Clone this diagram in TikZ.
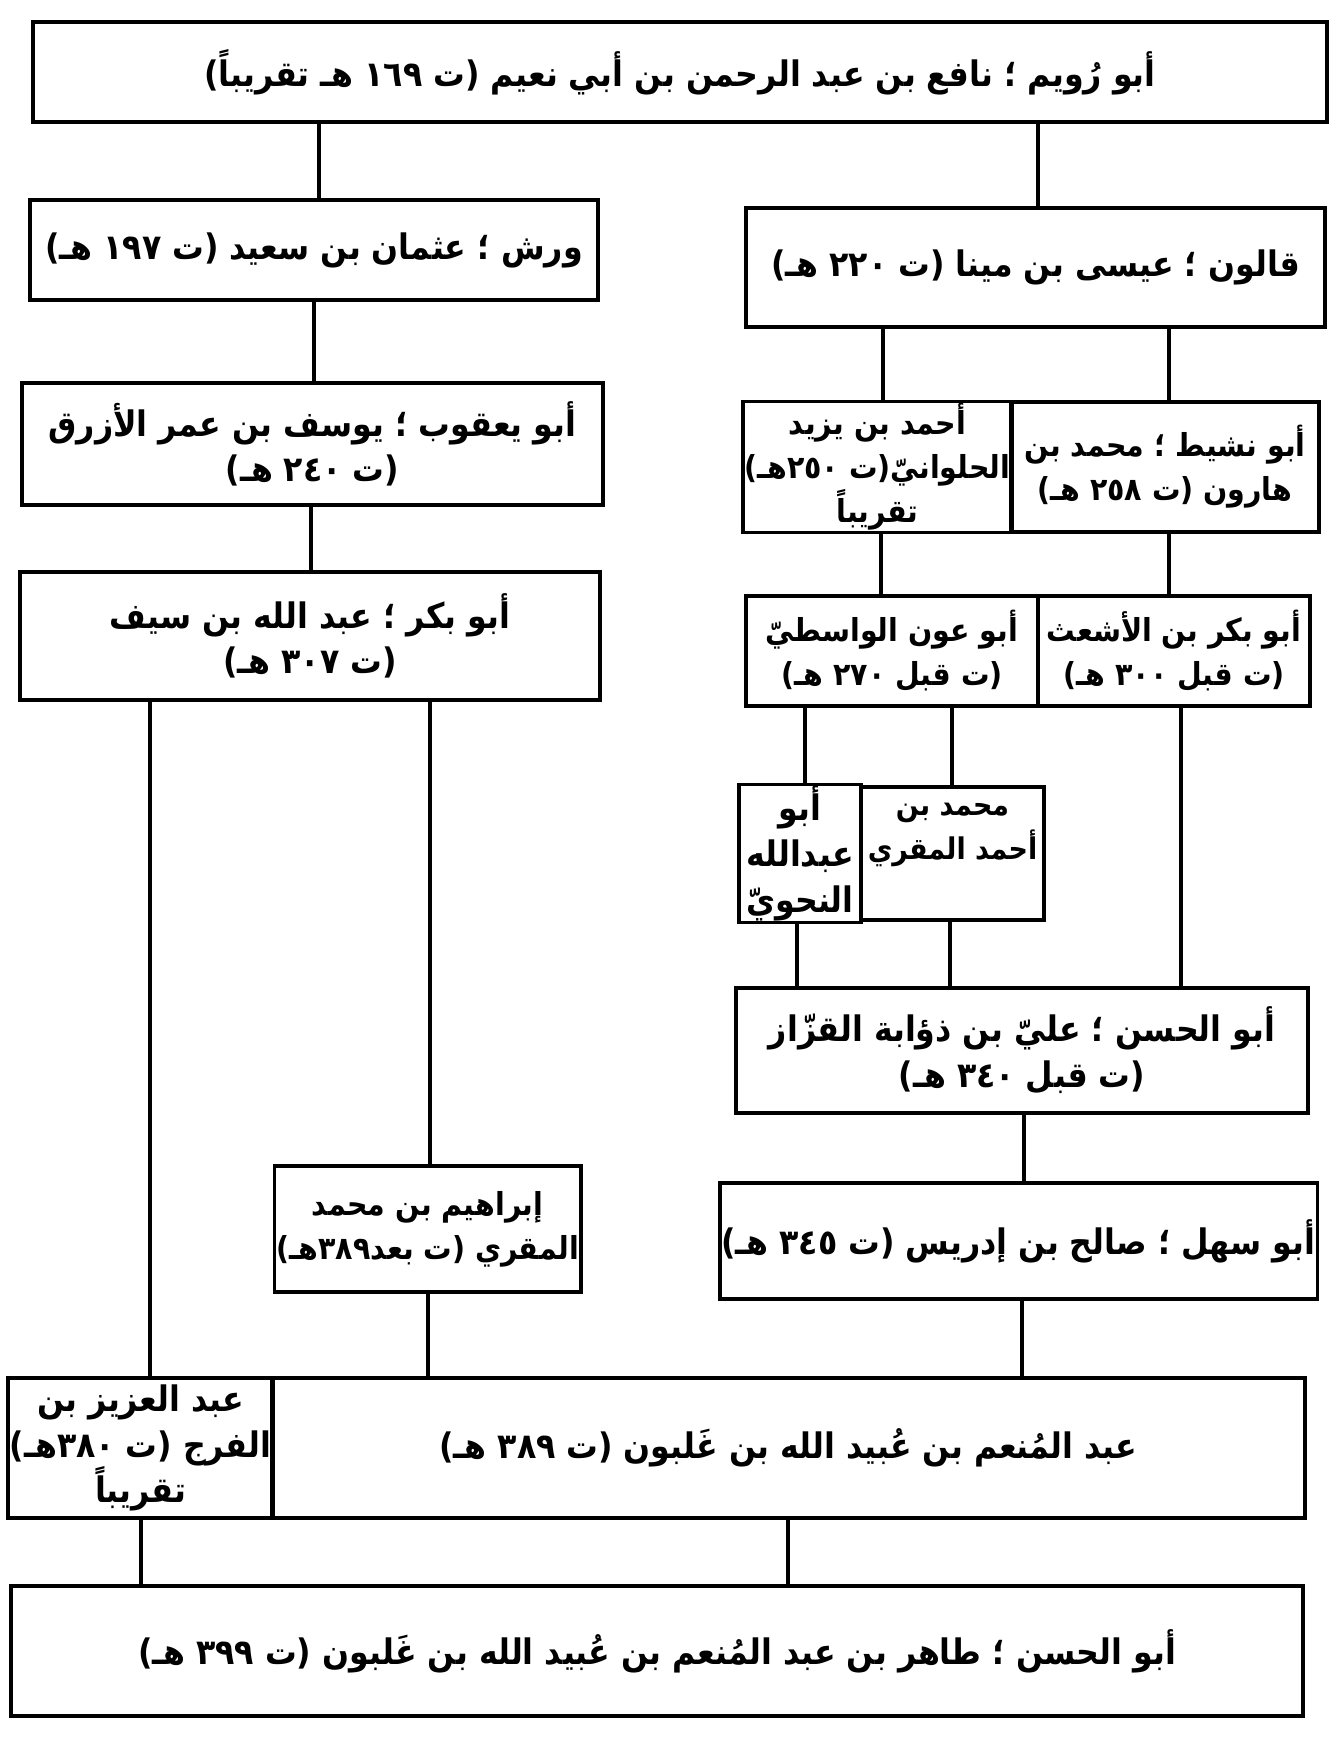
\documentclass[tikz,border=0pt]{standalone}
\usepackage{fontspec}
\newfontfamily\arabicfont[Script=Arabic, BoldFont={DejaVu Sans Condensed Bold}]{DejaVu Sans Condensed}
\TeXXeTstate=1
\usepackage{tikz}
\usetikzlibrary{positioning}
\newcommand{\rtl}[1]{\beginR #1\endR}

\begin{document}
\begin{tikzpicture}[
        person/.style={rectangle, draw=black, line width=1pt, align=center, inner sep=0.5pt, font=\arabicfont\bfseries\fontsize{10}{13}\selectfont},
        small/.style={font=\arabicfont\bfseries\fontsize{9}{12.5}\selectfont},
        tiny/.style={font=\arabicfont\bfseries\fontsize{8.5}{12.5}\selectfont},
        link/.style={-, line width=0.9pt}
    ]
        \useasboundingbox (0,0) rectangle (13.36,-17.41);

        \node[person, minimum width=12.94cm, minimum height=1.00cm] (nafi) at (6.80,-0.72) {\rtl{أبو رُويم ؛ نافع بن عبد الرحمن بن أبي نعيم (ت ١٦٩ هـ تقريباً)}};

        \node[person, minimum width=5.68cm, minimum height=1.00cm] (warsh) at (3.14,-2.50) {\rtl{ورش ؛ عثمان بن سعيد (ت ١٩٧ هـ)}};
        \node[person, minimum width=5.79cm, minimum height=1.19cm] (qalun) at (10.355,-2.675) {\rtl{قالون ؛ عيسى بن مينا (ت ٢٢٠ هـ)}};

        \node[person, minimum width=5.81cm, minimum height=1.22cm] (azraq) at (3.125,-4.44) {\rtl{أبو يعقوب ؛ يوسف بن عمر الأزرق}\\ \rtl{(ت ٢٤٠ هـ)}};
        \node[person, small, minimum width=2.67cm, minimum height=1.30cm] (hulwani) at (8.775,-4.67) {\rtl{أحمد بن يزيد}\\ \rtl{الحلوانيّ(ت ٢٥٠هـ)}\\ \rtl{تقريباً}};
        \node[person, small, minimum width=3.08cm, minimum height=1.30cm] (nashit) at (11.65,-4.67) {\rtl{أبو نشيط ؛ محمد بن}\\ \rtl{هارون (ت ٢٥٨ هـ)}};

        \node[person, minimum width=5.80cm, minimum height=1.28cm] (ibnsayf) at (3.10,-6.36) {\rtl{أبو بكر ؛ عبد الله بن سيف}\\ \rtl{(ت ٣٠٧ هـ)}};
        \node[person, small, minimum width=2.92cm, minimum height=1.10cm] (wasiti) at (8.92,-6.51) {\rtl{أبو عون الواسطيّ}\\ \rtl{(ت قبل ٢٧٠ هـ)}};
        \node[person, small, minimum width=2.72cm, minimum height=1.10cm] (ashath) at (11.74,-6.51) {\rtl{أبو بكر بن الأشعث}\\ \rtl{(ت قبل ٣٠٠ هـ)}};

        \node[person, minimum width=1.22cm, minimum height=1.33cm] (nahwi) at (8.00,-8.535) {\rtl{أبو}\\ \rtl{عبدالله}\\ \rtl{النحويّ}};
        \node[person, tiny, minimum width=1.83cm, minimum height=1.33cm] (muqri) at (9.525,-8.535) {\rtl{محمد بن}\\ \rtl{أحمد المقري}\\ \mbox{}};

        \node[person, minimum width=5.72cm, minimum height=1.25cm] (qazzaz) at (10.22,-10.505) {\rtl{أبو الحسن ؛ عليّ بن ذؤابة القزّاز}\\ \rtl{(ت قبل ٣٤٠ هـ)}};

        \node[person, small, minimum width=3.05cm, minimum height=1.26cm] (ibrahim) at (4.275,-12.29) {\rtl{إبراهيم بن محمد}\\ \rtl{المقري (ت بعد٣٨٩هـ)}};
        \node[person, minimum width=5.71cm, minimum height=1.16cm] (salih) at (10.185,-12.41) {\rtl{أبو سهل ؛ صالح بن إدريس (ت ٣٤٥ هـ)}};

        \node[person, minimum width=2.63cm, minimum height=1.40cm] (abdalaziz) at (1.405,-14.48) {\rtl{عبد العزيز بن}\\ \rtl{الفرج (ت ٣٨٠هـ)}\\ \rtl{تقريباً}};
        \node[person, minimum width=10.33cm, minimum height=1.40cm] (ghalbun) at (7.885,-14.48) {\rtl{عبد المُنعم بن عُبيد الله بن غَلبون (ت ٣٨٩ هـ)}};

        \node[person, minimum width=12.92cm, minimum height=1.30cm] (tahir) at (6.57,-16.51) {\rtl{أبو الحسن ؛ طاهر بن عبد المُنعم بن عُبيد الله بن غَلبون (ت ٣٩٩ هـ)}};

        \draw[link] (nafi.south -| 3.19,0) -- (warsh.north -| 3.19,0);
        \draw[link] (nafi.south -| 10.38,0) -- (qalun.north -| 10.38,0);
        \draw[link] (warsh.south -| 3.14,0) -- (azraq.north -| 3.14,0);
        \draw[link] (qalun.south -| 8.83,0) -- (hulwani.north -| 8.83,0);
        \draw[link] (qalun.south -| 11.69,0) -- (nashit.north -| 11.69,0);
        \draw[link] (azraq.south -| 3.11,0) -- (ibnsayf.north -| 3.11,0);
        \draw[link] (hulwani.south -| 8.81,0) -- (wasiti.north -| 8.81,0);
        \draw[link] (nashit.south -| 11.69,0) -- (ashath.north -| 11.69,0);
        \draw[link] (ibnsayf.south -| 1.50,0) -- (abdalaziz.north -| 1.50,0);
        \draw[link] (ibnsayf.south -| 4.30,0) -- (ibrahim.north -| 4.30,0);
        \draw[link] (wasiti.south -| 8.05,0) -- (nahwi.north -| 8.05,0);
        \draw[link] (wasiti.south -| 9.52,0) -- (muqri.north -| 9.52,0);
        \draw[link] (ashath.south -| 11.81,0) -- (qazzaz.north -| 11.81,0);
        \draw[link] (nahwi.south -| 7.97,0) -- (qazzaz.north -| 7.97,0);
        \draw[link] (muqri.south -| 9.50,0) -- (qazzaz.north -| 9.50,0);
        \draw[link] (qazzaz.south -| 10.24,0) -- (salih.north -| 10.24,0);
        \draw[link] (ibrahim.south -| 4.28,0) -- (ghalbun.north -| 4.28,0);
        \draw[link] (salih.south -| 10.22,0) -- (ghalbun.north -| 10.22,0);
        \draw[link] (abdalaziz.south -| 1.41,0) -- (tahir.north -| 1.41,0);
        \draw[link] (ghalbun.south -| 7.88,0) -- (tahir.north -| 7.88,0);
    \end{tikzpicture}
\end{document}
